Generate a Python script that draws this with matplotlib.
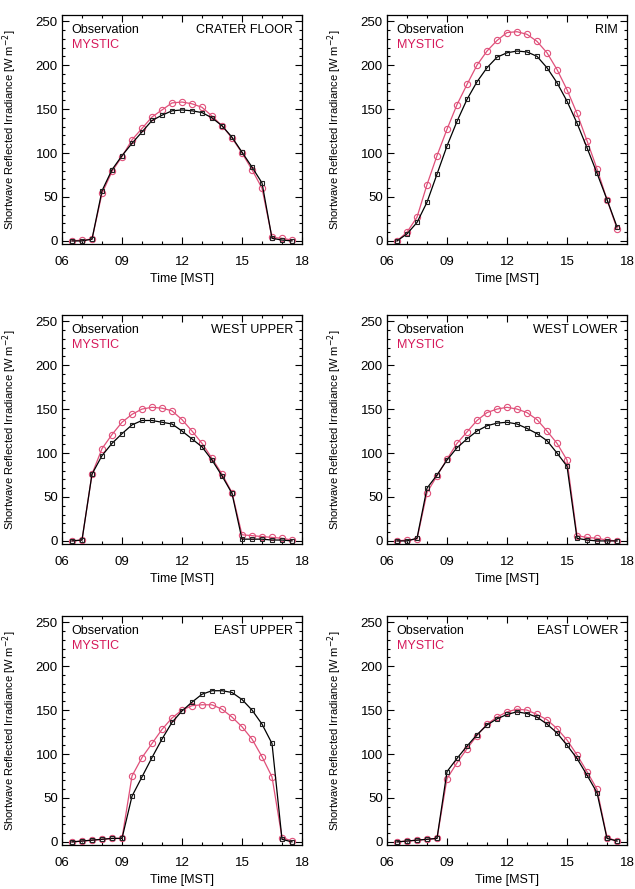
import matplotlib
matplotlib.use("Agg")
import matplotlib.pyplot as plt
from matplotlib.ticker import MultipleLocator, FixedLocator

plt.rcParams['font.family'] = ['Liberation Sans', 'DejaVu Sans']

# half-hourly times [MST]
times = [6.5, 7.0, 7.5, 8.0, 8.5, 9.0, 9.5, 10.0, 10.5, 11.0, 11.5, 12.0,
         12.5, 13.0, 13.5, 14.0, 14.5, 15.0, 15.5, 16.0, 16.5, 17.0, 17.5]

stations = ['CRATER FLOOR', 'RIM', 'WEST UPPER', 'WEST LOWER', 'EAST UPPER', 'EAST LOWER']

# reflected shortwave irradiance [W m-2]
crater_obs = [0, 0, 2, 57, 81, 97, 111, 124, 137, 143, 148, 149, 148, 146, 140, 131, 118, 101, 84, 66, 3, 1, 0]
crater_mystic = [0, 1, 2, 54, 79, 96, 115, 128, 141, 149, 157, 158, 156, 152, 142, 131, 117, 100, 81, 60, 4, 3, 1]

rim_obs = [0, 8, 21, 44, 76, 108, 136, 161, 181, 197, 209, 214, 216, 215, 210, 197, 180, 159, 134, 106, 77, 47, 16]
rim_mystic = [0, 10, 27, 64, 97, 127, 155, 178, 200, 216, 228, 237, 238, 235, 227, 214, 195, 172, 145, 114, 82, 47, 14]

west_upper_obs = [0, 1, 76, 97, 111, 122, 132, 137, 137, 135, 133, 125, 116, 107, 92, 74, 54, 2, 2, 2, 1, 1, 0]
west_upper_mystic = [0, 1, 76, 105, 121, 135, 144, 150, 152, 151, 148, 138, 125, 111, 94, 76, 55, 7, 6, 5, 4, 3, 1]

west_lower_obs = [0, 0, 3, 60, 75, 92, 106, 116, 125, 131, 134, 135, 133, 128, 122, 114, 100, 85, 3, 1, 0, 0, 0]
west_lower_mystic = [0, 1, 2, 55, 74, 93, 111, 124, 137, 146, 150, 152, 150, 146, 138, 125, 111, 92, 6, 4, 3, 1, 0]

east_upper_obs = [0, 1, 2, 3, 4, 4, 52, 74, 96, 117, 136, 149, 159, 168, 172, 172, 170, 162, 150, 134, 112, 3, 0]
east_upper_mystic = [0, 1, 2, 3, 4, 4, 75, 96, 112, 128, 141, 150, 155, 156, 156, 151, 142, 131, 117, 97, 74, 5, 1]

east_lower_obs = [0, 1, 2, 3, 4, 80, 95, 109, 122, 133, 140, 145, 148, 146, 142, 134, 124, 110, 95, 76, 56, 4, 1]
east_lower_mystic = [0, 1, 2, 3, 4, 72, 90, 106, 121, 134, 142, 148, 151, 150, 145, 139, 129, 116, 99, 80, 60, 5, 1]

obs_series = [crater_obs, rim_obs, west_upper_obs, west_lower_obs, east_upper_obs, east_lower_obs]
mystic_series = [crater_mystic, rim_mystic, west_upper_mystic, west_lower_mystic, east_upper_mystic, east_lower_mystic]

xticks = [6, 9, 12, 15, 18]
xticklabels = ['06', '09', '12', '15', '18']

RED = '#d6185a'
RED_LINE = '#e0507a'

W, H = 635, 889
fig = plt.figure(figsize=(W / 100, H / 100), dpi=100)

col_left = [62, 387]
row_top = [15, 315, 616]
ax_w, ax_h = 240, 229

for i, name in enumerate(stations):
    r, c = divmod(i, 2)
    left = col_left[c] / W
    bottom = 1 - (row_top[r] + ax_h) / H
    ax = fig.add_axes([left, bottom, ax_w / W, ax_h / H])

    ax.plot(times, mystic_series[i], color=RED_LINE, lw=0.9, marker='o', ms=4.5,
            mfc='none', mec=RED_LINE, mew=0.8, zorder=2)
    ax.plot(times, obs_series[i], color='black', lw=0.9, marker='s', ms=3.5,
            mfc='none', mec='#222222', mew=0.8, zorder=3)

    ax.set_xlim(6, 18)
    ax.set_ylim(-3.5, 257)
    ax.xaxis.set_major_locator(FixedLocator(xticks))
    ax.set_xticklabels(xticklabels)
    ax.xaxis.set_minor_locator(MultipleLocator(1))
    ax.yaxis.set_major_locator(MultipleLocator(50))
    ax.yaxis.set_minor_locator(MultipleLocator(10))
    ax.tick_params(which='both', direction='in', top=True, right=True, width=0.8)
    ax.tick_params(which='major', length=5, labelsize=9.5)
    ax.tick_params(axis='x', which='major', pad=8.5)
    ax.tick_params(axis='y', which='major', pad=3)
    ax.tick_params(which='minor', length=2.5)
    for sp in ax.spines.values():
        sp.set_linewidth(0.9)

    ax.set_xlabel('Time [MST]', fontsize=9)
    ax.xaxis.set_label_coords(0.5, -0.125)
    ax.set_ylabel('Shortwave Reflected Irradiance [W m$^{-2}$]', fontsize=8)
    ax.yaxis.set_label_coords(-0.18, 0.5)

    ax.text(0.04, 0.934, 'Observation', transform=ax.transAxes, fontsize=9,
            color='black', va='center', ha='left')
    ax.text(0.04, 0.869, 'MYSTIC', transform=ax.transAxes, fontsize=9,
            color=RED, va='center', ha='left')
    ax.text(0.963, 0.934, name, transform=ax.transAxes, fontsize=9,
            color='black', va='center', ha='right')

fig.savefig('out.png', dpi=100)
